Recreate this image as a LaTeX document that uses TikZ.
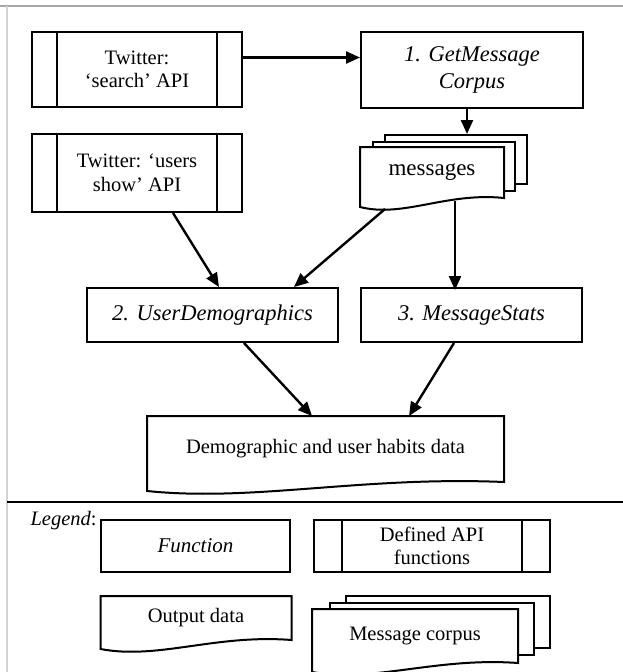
\documentclass[tikz,border=0pt]{standalone}
\usepackage{fontspec}
\setmainfont{Liberation Serif}
\usepackage{tikz}
\usetikzlibrary{positioning, arrows.meta, calc, backgrounds}
\tikzset{box/.style={rectangle,draw=black,line width=2pt,inner sep=2pt,align=center,font=\fontsize{20.5}{23.5}\selectfont},
  fn/.style={box,font=\fontsize{22.5}{27}\selectfont\itshape},
  apibox/.style={box,path picture={\draw[line width=2pt] ([xshift=#1]path picture bounding box.north west) -- ([xshift=#1]path picture bounding box.south west) ([xshift=-#1]path picture bounding box.north east) -- ([xshift=-#1]path picture bounding box.south east);}},
  apibox/.default=25pt,
  doc/.style={box,draw=none},
  page/.style={draw=black,fill=white,line width=2pt,inner sep=0pt},
  arr/.style={line width=2.4pt,-{Triangle[length=14pt,width=12pt]}}}
\newcommand{\docwave}[1]{\draw[line width=2pt,fill=white] (#1.north west) -- (#1.north east) -- (#1.south east) .. controls ($(#1.south east)!0.4!(#1.south west)+(0,-6)$) and ($(#1.south east)!0.7!(#1.south west)+(0,20)$) .. ($(#1.south west)+(0,9)$) -- cycle;}

\begin{document}
\begin{tikzpicture}[x=1pt,y=-1pt]
  \useasboundingbox (0,0) rectangle (623,672);
  \draw[gray!70,line width=2pt] (0,6) -- (623,6);
  \draw[gray!35,line width=1.5pt] (7,6) -- (7,672);
  \draw[line width=2.2pt] (7,502) -- (623,502);

  \node[apibox,minimum width=210,minimum height=75] (search) at (137,69.5) {Twitter:\\‘search’ API};
  \node[apibox,minimum width=210,minimum height=78] (users) at (137,173) {Twitter: ‘users\\show’ API};
  \node[fn,minimum width=222,minimum height=76] (getmsg) at (472,70) {1. GetMessage\\Corpus};
  \node[doc,font=\fontsize{23}{27}\selectfont,minimum width=142,minimum height=49] (msg) at (432,172.5) {messages};
  \begin{scope}[on background layer]
    \node[page,minimum width=142,minimum height=49] (msgc) at ([shift={(24,-13)}]msg.center) {};
    \node[page,minimum width=142,minimum height=49] (msgb) at ([shift={(12,-6)}]msg.center) {};
    \docwave{msg}
  \end{scope}
  \node[fn,minimum width=251,minimum height=54] (ud) at (212.5,315) {2. UserDemographics};
  \node[fn,minimum width=221,minimum height=54] (ms) at (471.5,315) {3. MessageStats};
  \node[doc,minimum width=355,minimum height=64] (demo) at (325.5,449) {Demographic and user habits data};
  \begin{scope}[on background layer]
    \docwave{demo}
  \end{scope}

  \draw[arr] ([yshift=12pt]search.east) -- ([yshift=12pt]search.east -| getmsg.west);
  \draw[arr] ([xshift=-5pt]getmsg.south) -- ([xshift=-5pt]getmsg.south |- msgc.north);
  \draw[arr] ([xshift=36pt]users.south) -- ([xshift=6.5pt]ud.north);
  \draw[arr] ([xshift=-47pt,yshift=-11pt]msg.south) -- ([xshift=81.5pt]ud.north);
  \draw[arr] ([xshift=23pt,yshift=-3pt]msg.south) -- ([xshift=23pt,yshift=-3pt]msg.south |- ms.north);
  \draw[arr] ([xshift=31.5pt]ud.south) -- ([xshift=-13.5pt]demo.north);
  \draw[arr] ([xshift=-17.5pt]ms.south) -- ([xshift=83.5pt]demo.north);

  \node[anchor=base west,font=\fontsize{20.5}{23.5}\selectfont] (legend) at (27,525) {\textit{Legend}:};
  \node[fn,font=\fontsize{21}{25}\selectfont\itshape,minimum width=189,minimum height=52] (func) at (195.5,546) {Function};
  \node[apibox=28pt,minimum width=236,minimum height=52] (apidef) at (432,546) {Defined API\\functions};
  \node[doc,minimum width=189,minimum height=42] (outdata) at (196,618) {Output data};
  \node[doc,minimum width=204,minimum height=52] (corpus) at (415,636) {Message corpus};
  \begin{scope}[on background layer]
    \docwave{outdata}
    \node[page,minimum width=204,minimum height=52] (corpusc) at ([shift={(33,-14)}]corpus.center) {};
    \node[page,minimum width=204,minimum height=52] (corpusb) at ([shift={(17,-7)}]corpus.center) {};
    \docwave{corpus}
  \end{scope}
\end{tikzpicture}
\end{document}
